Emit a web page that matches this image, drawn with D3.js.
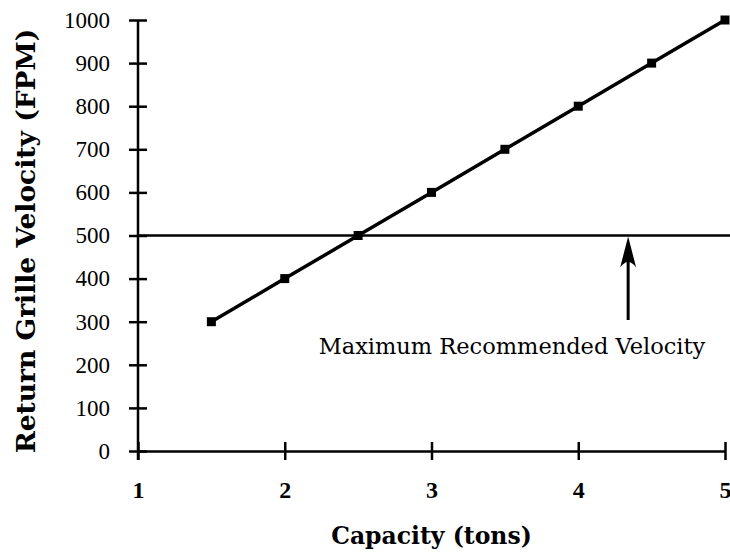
<!DOCTYPE html>
<html>
<head>
<meta charset="utf-8">
<script src="https://cdn.jsdelivr.net/npm/d3@7"></script>
<style>
  body { margin: 0; background: #fff; }
  svg { display: block; }
</style>
</head>
<body>
<div id="chart"></div>
<script>
var capacity = [1.5, 2, 2.5, 3, 3.5, 4, 4.5, 5];
var velocity = [300, 400, 500, 600, 700, 800, 900, 1000];
var xTickVals = [1, 2, 3, 4, 5];
var yTickVals = [0, 100, 200, 300, 400, 500, 600, 700, 800, 900, 1000];
var maxVelocity = 500;
var arrowAt = 4.34;
var noteText = "Maximum Recommended Velocity";

var W = 730, H = 560;
var PLOT_L = 138, PLOT_R = 725, PLOT_T = 20, PLOT_B = 451;
var TEXT_FONT = "'DejaVu Serif', serif";
var NUM_FONT = "'Liberation Serif', 'Times New Roman', serif";

var svg = d3.select("#chart").append("svg")
    .attr("width", W)
    .attr("height", H);

var scaleX = d3.scaleLinear().domain([1, 5]).range([PLOT_L, PLOT_R]);
var scaleY = d3.scaleLinear().domain([0, 1000]).range([PLOT_B, PLOT_T]);

var yAxis = d3.axisLeft(scaleY)
    .tickValues(yTickVals)
    .tickFormat(d3.format("d"))
    .tickSizeInner(9)
    .tickSizeOuter(0)
    .tickPadding(19);

var xAxis = d3.axisBottom(scaleX)
    .tickValues(xTickVals)
    .tickFormat(d3.format("d"))
    .tickSizeInner(9)
    .tickSizeOuter(0)
    .tickPadding(21);

var gy = svg.append("g")
    .attr("transform", "translate(" + PLOT_L + ",0)")
    .call(yAxis);
gy.select(".domain").attr("stroke-width", 2.5).attr("d", "M0," + PLOT_T + "V" + (PLOT_B + 9));
gy.selectAll(".tick line").attr("x1", 9).attr("stroke-width", 2.5);
gy.selectAll(".tick text")
    .style("font-family", NUM_FONT)
    .style("font-size", "23px")
    .attr("fill", "#000");

var gx = svg.append("g")
    .attr("transform", "translate(0," + PLOT_B + ")")
    .call(xAxis);
gx.select(".domain").attr("stroke-width", 2.5);
gx.selectAll(".tick line").attr("y1", -9).attr("stroke-width", 2.5);
gx.selectAll(".tick text")
    .style("font-family", NUM_FONT)
    .style("font-size", "24px")
    .style("font-weight", "bold")
    .attr("fill", "#000");

// max recommended velocity line
svg.append("line")
    .attr("x1", scaleX(1))
    .attr("x2", W)
    .attr("y1", scaleY(maxVelocity))
    .attr("y2", scaleY(maxVelocity))
    .attr("stroke", "#000")
    .attr("stroke-width", 2.5);

// data line
var pts = capacity.map(function(c, i) { return [c, velocity[i]]; });
var line = d3.line()
    .x(function(d) { return scaleX(d[0]); })
    .y(function(d) { return scaleY(d[1]); });

svg.append("path")
    .datum(pts)
    .attr("d", line)
    .attr("fill", "none")
    .attr("stroke", "#000")
    .attr("stroke-width", 3.5);

svg.selectAll(".pt")
    .data(pts)
    .enter()
    .append("rect")
    .attr("class", "pt")
    .attr("x", function(d) { return scaleX(d[0]) - 4.5; })
    .attr("y", function(d) { return scaleY(d[1]) - 4.5; })
    .attr("width", 9)
    .attr("height", 9)
    .attr("fill", "#000");

// arrow
var ax = scaleX(arrowAt);
var tipY = scaleY(maxVelocity) + 1;
svg.append("line")
    .attr("x1", ax).attr("x2", ax)
    .attr("y1", 320).attr("y2", tipY + 12)
    .attr("stroke", "#000")
    .attr("stroke-width", 3);
svg.append("path")
    .attr("d", "M" + ax + "," + tipY +
        " L" + (ax + 8) + "," + (tipY + 31) +
        " Q" + ax + "," + (tipY + 20) + " " + (ax - 8) + "," + (tipY + 31) + " Z")
    .attr("fill", "#000");

svg.append("text")
    .attr("x", 512)
    .attr("y", 354)
    .attr("text-anchor", "middle")
    .style("font-family", TEXT_FONT)
    .style("font-size", "22.5px")
    .text(noteText);

// axis titles
svg.append("text")
    .attr("x", (PLOT_L + PLOT_R) / 2)
    .attr("y", 544)
    .attr("text-anchor", "middle")
    .style("font-family", TEXT_FONT)
    .style("font-size", "23.5px")
    .style("font-weight", "bold")
    .text("Capacity (tons)");

svg.append("text")
    .attr("transform", "translate(35," + 241 + ") rotate(-90)")
    .attr("text-anchor", "middle")
    .style("font-family", TEXT_FONT)
    .style("font-size", "26.5px")
    .style("font-weight", "bold")
    .text("Return Grille Velocity (FPM)");
</script>
</body>
</html>
